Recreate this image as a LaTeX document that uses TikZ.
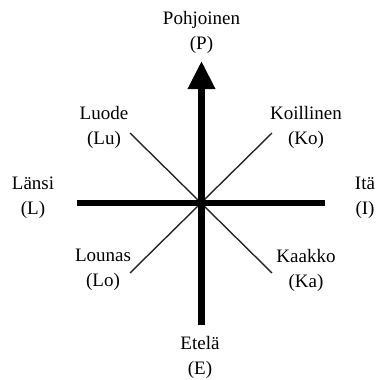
\documentclass[tikz,border=0pt]{standalone}
\usepackage{fontspec}
\setmainfont{Liberation Serif}
\usetikzlibrary{arrows.meta}
\begin{document}
\begin{tikzpicture}[x=1pt,y=-1pt,
  lbl/.style={align=center,inner sep=0pt,font=\fontsize{19}{25}\selectfont},
  axis/.style={line width=6.5pt},
  diag/.style={line width=1.4pt,draw=black!85}]
\useasboundingbox (0,0) rectangle (375,380);
\coordinate (c) at (201.5,203);
\coordinate (n) at (201.5,61);
\coordinate (s) at (201.5,325);
\coordinate (w) at (77,203);
\coordinate (e) at (325,203);
\coordinate (ne) at (272,133);
\coordinate (nw) at (130,133);
\coordinate (sw) at (130,273);
\coordinate (se) at (272,273);
\draw[diag] (nw) -- (se);
\draw[diag] (sw) -- (ne);
\draw[axis] (w) -- (e);
\draw[axis,-{Triangle[length=28pt,width=26pt]}] (s) -- (n);
\node[lbl] (P) at (201.5,32) {Pohjoinen\\(P)};
\node[lbl] (Lu) at (104,127) {Luode\\(Lu)};
\node[lbl] (Ko) at (306,127) {Koillinen\\(Ko)};
\node[lbl] (L) at (33,198) {Länsi\\(L)};
\node[lbl] (I) at (365,198) {Itä\\(I)};
\node[lbl] (Lo) at (103,270) {Lounas\\(Lo)};
\node[lbl] (Ka) at (306,270) {Kaakko\\(Ka)};
\node[lbl] (E) at (200,357) {Etelä\\(E)};
\end{tikzpicture}
\end{document}
